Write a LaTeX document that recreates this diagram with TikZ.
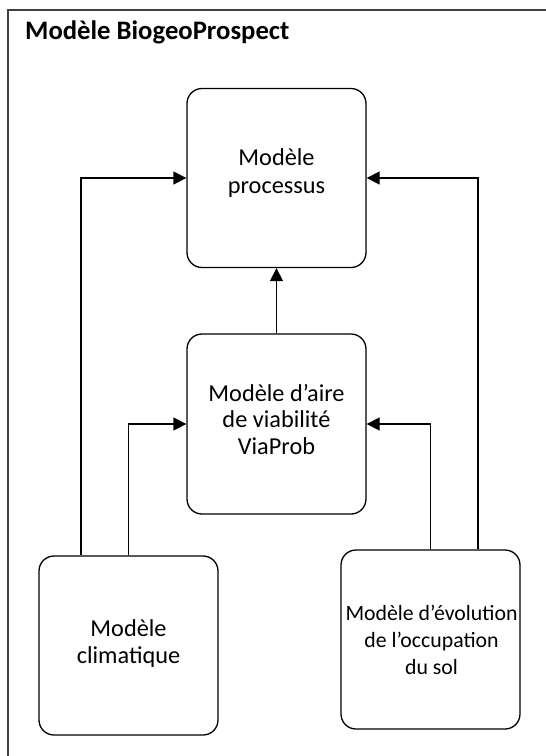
\documentclass[tikz,border=0pt]{standalone}
\usepackage{fontspec}
\setmainfont{Carlito}
\usetikzlibrary{arrows.meta}
\newcommand{\mylines}[1]{\begin{tabular}[t]{@{}c@{}}#1\end{tabular}}
\tikzset{
  box/.style={draw=black, line width=1.3pt, rounded corners=15pt, minimum width=179pt, minimum height=179pt, inner sep=0pt},
  txt/.style={anchor=base, inner sep=0pt, font=\fontsize{24.3pt}{26.7pt}\selectfont},
  smalltxt/.style={anchor=base, inner sep=0pt, font=\fontsize{21.8pt}{26.7pt}\selectfont},
  conn/.style={draw=black, line width=1.3pt, -{Triangle[length=13pt,width=13pt]}},
  frame/.style={draw=black!75, line width=2pt},
}
\begin{document}
\begin{tikzpicture}[x=1pt,y=-1pt]
\useasboundingbox (0,0) rectangle (546,756);
\fill[white] (0,0) rectangle (546,756);
\draw[frame] (8,10) rectangle (570,780);
\node[anchor=base west, inner sep=0pt, font=\fontsize{26.7pt}{32pt}\selectfont\bfseries] (title) at (25,39.5) {Modèle BiogeoProspect};
% boxes
\node[box] (proc) at (276.5,178) {};
\node[box, minimum height=180pt] (via) at (276.5,424) {};
\node[box] (clim) at (128.5,645.5) {};
\node[box] (occ) at (430.5,639.5) {};
% texts
\node[txt, font=\fontsize{24.3pt}{28.3pt}\selectfont] (proct) at (276.5,165) {\mylines{Modèle\\processus}};
\node[txt] (viat) at (276.5,401) {\mylines{Modèle d’aire\\de viabilité\\ViaProb}};
\node[txt] (climt) at (128.5,636.7) {\mylines{Modèle\\climatique}};
\node[smalltxt] (occt) at (431.5,620.7) {\mylines{Modèle d’évolution\\de l’occupation\hspace{9pt}\\du sol}};
% connectors
\draw[conn] (via.north) -- (proc.south);
\draw[conn] ([xshift=-47.5pt]clim.north) |- (proc.west);
\draw[conn] (clim.north) |- (via.west);
\draw[conn] (occ.north) |- (via.east);
\draw[conn] ([xshift=47.5pt]occ.north) |- (proc.east);
\end{tikzpicture}
\end{document}
